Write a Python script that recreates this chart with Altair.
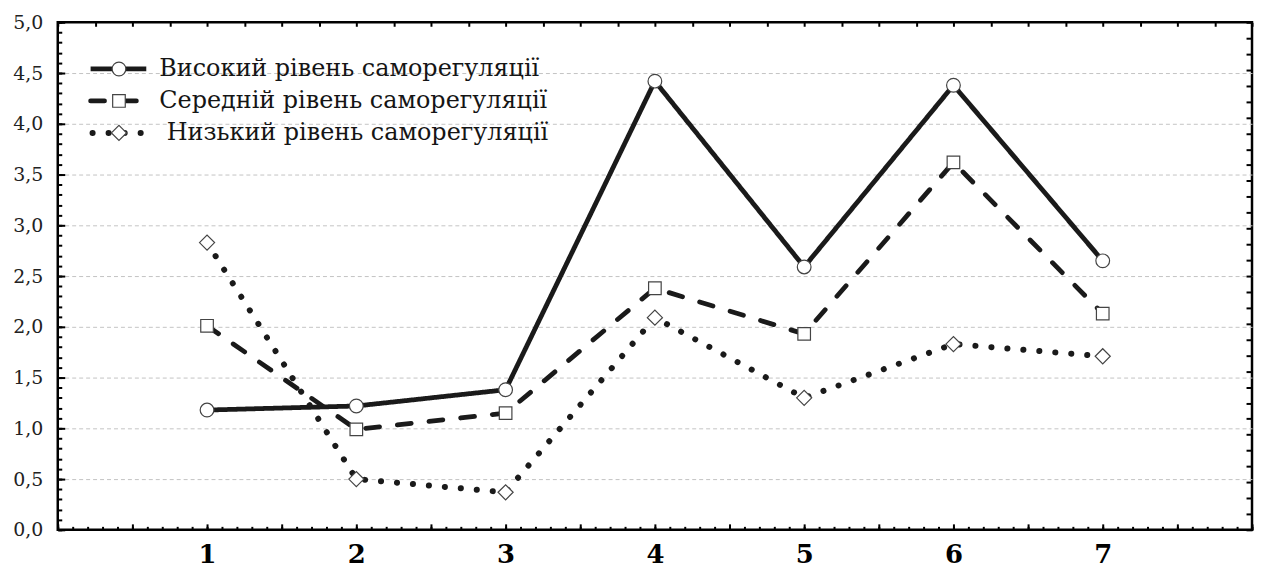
import altair as alt
import pandas as pd

# ---------------- data ----------------
x_points = [1, 2, 3, 4, 5, 6, 7]
high = [1.18, 1.22, 1.38, 4.42, 2.59, 4.38, 2.65]
medium = [2.01, 0.99, 1.15, 2.38, 1.93, 3.62, 2.13]
low = [2.83, 0.50, 0.37, 2.09, 1.30, 1.83, 1.71]
series_names = [
    "Високий рівень саморегуляції",
    "Середній рівень саморегуляції",
    "Низький рівень саморегуляції",
]
series_values = [high, medium, low]

# tick values
x_major = [i * 0.5 for i in range(17)]
x_minor = [round(i * 0.1, 2) for i in range(81)]
x_top = [i * 0.25 for i in range(33)]
y_major = [i * 0.5 for i in range(11)]
y_minor = [round(i * 0.1, 2) for i in range(51)]
y_right = [i * 5 / 32 for i in range(33)]
y_grid = [0.5, 1.0, 1.5, 2.0, 2.5, 3.0, 3.5, 4.0, 4.5]

# legend placement (in data units)
legend_y = [4.54, 4.225, 3.91]
legend_line_x = [(0.22, 0.593), (0.22, 0.56), (0.233, 0.573)]
legend_marker_x = 0.41
legend_text_x = [0.68, 0.68, 0.73]

styles = [
    dict(dash=[1, 0], width=4.8, cap="butt", shape="circle", size=190),
    dict(dash=[14, 18], width=4.8, cap="round", shape="square", size=160),
    dict(dash=[0.1, 16], width=6, cap="round", shape="diamond", size=230),
]

SERIF = "DejaVu Serif"
LINE_COLOR = "#1a1a1a"

xs = alt.Scale(domain=[0, 8], nice=False, zero=False)
ys = alt.Scale(domain=[0, 5], nice=False, zero=False)

rows = []
for name, vals in zip(series_names, series_values):
    for xv, yv in zip(x_points, vals):
        rows.append({"series": name, "x": xv, "y": yv})
df = pd.DataFrame(rows)

layers = []


def axis_layer(xaxis, yaxis):
    return alt.Chart(df).mark_point(opacity=0).encode(
        x=alt.X("x:Q", scale=xs, axis=xaxis),
        y=alt.Y("y:Q", scale=ys, axis=yaxis),
    )


# grid layer
layers.append(axis_layer(
    None,
    alt.Axis(orient="left", values=y_grid, grid=True, gridDash=[4, 3],
             gridColor="#c4c4c4", gridWidth=1, ticks=False, labels=False,
             domain=False, title=None),
))

# data layers
for name, st in zip(series_names, styles):
    sub = df[df.series == name]
    layers.append(alt.Chart(sub).mark_line(
        color=LINE_COLOR, strokeWidth=st["width"], strokeDash=st["dash"],
        strokeCap=st["cap"], strokeJoin="round",
    ).encode(
        x=alt.X("x:Q", scale=xs, axis=None),
        y=alt.Y("y:Q", scale=ys, axis=None),
    ))
for name, st in zip(series_names, styles):
    sub = df[df.series == name]
    layers.append(alt.Chart(sub).mark_point(
        shape=st["shape"], size=st["size"], filled=True, fill="white",
        stroke="#444444", strokeWidth=1.2, opacity=1,
    ).encode(
        x=alt.X("x:Q", scale=xs, axis=None),
        y=alt.Y("y:Q", scale=ys, axis=None),
    ))

# legend
for i, (name, st) in enumerate(zip(series_names, styles)):
    x0, x1 = legend_line_x[i]
    ldf = pd.DataFrame([{"x": x0, "x2": x1, "y": legend_y[i],
                         "xm": legend_marker_x, "xt": legend_text_x[i],
                         "label": name}])
    base = alt.Chart(ldf)
    layers.append(base.mark_rule(
        color=LINE_COLOR, strokeWidth=st["width"], strokeDash=st["dash"],
        strokeCap=st["cap"],
    ).encode(
        x=alt.X("x:Q", scale=xs, axis=None), x2="x2:Q",
        y=alt.Y("y:Q", scale=ys, axis=None),
    ))
    layers.append(base.mark_point(
        shape=st["shape"], size=st["size"], filled=True, fill="white",
        stroke="#444444", strokeWidth=1.2, opacity=1,
    ).encode(
        x=alt.X("xm:Q", scale=xs, axis=None),
        y=alt.Y("y:Q", scale=ys, axis=None),
    ))
    layers.append(base.mark_text(
        align="left", baseline="middle", font=SERIF, fontSize=24,
        color="#151515",
    ).encode(
        x=alt.X("xt:Q", scale=xs, axis=None),
        y=alt.Y("y:Q", scale=ys, axis=None),
        text="label:N",
    ))

# axes layers
layers.append(axis_layer(
    alt.Axis(orient="bottom", values=x_major, offset=-6, tickSize=6,
             tickWidth=2, tickColor="black", domain=False, grid=False,
             labelExpr="datum.value >= 1 && datum.value <= 7 && datum.value % 1 == 0 ? format(datum.value, 'd') : ''",
             labelFont=SERIF, labelFontWeight="bold", labelFontSize=26,
             labelBaseline="alphabetic", labelPadding=33, labelFlush=False,
             labelOverlap=False, labelColor="black", title=None),
    alt.Axis(orient="left", values=y_major, offset=-7, tickSize=7,
             tickWidth=2, tickColor="black", domain=False, grid=False,
             labelExpr="replace(format(datum.value, '.1f'), '.', ',')",
             labelFont=SERIF, labelFontSize=19, labelPadding=15,
             labelBaseline="middle", labelFlush=False, labelOverlap=False,
             labelColor="#222222", title=None),
))
layers.append(axis_layer(
    alt.Axis(orient="bottom", values=x_minor, offset=-3.5, tickSize=3.5,
             tickWidth=2, tickColor="black", domain=False, grid=False,
             labels=False, title=None),
    alt.Axis(orient="left", values=y_minor, offset=-4, tickSize=4,
             tickWidth=2, tickColor="black", domain=False, grid=False,
             labels=False, title=None),
))
layers.append(axis_layer(
    alt.Axis(orient="top", values=x_top, offset=-4, tickSize=4,
             tickWidth=2, tickColor="black", domain=False, grid=False,
             labels=False, title=None),
    alt.Axis(orient="right", values=y_right, offset=-6, tickSize=6,
             tickWidth=2, tickColor="black", domain=False, grid=False,
             labels=False, title=None),
))

chart = alt.layer(*layers).resolve_axis(
    x="independent", y="independent"
).properties(
    width=1200, height=510,
    padding={"left": 50, "top": 13, "right": 2, "bottom": 38},
    autosize=alt.AutoSizeParams(type="none"),
).configure_view(stroke="black", strokeWidth=2.5)

chart.save("out.html", embed_options={"renderer": "svg", "actions": False})
